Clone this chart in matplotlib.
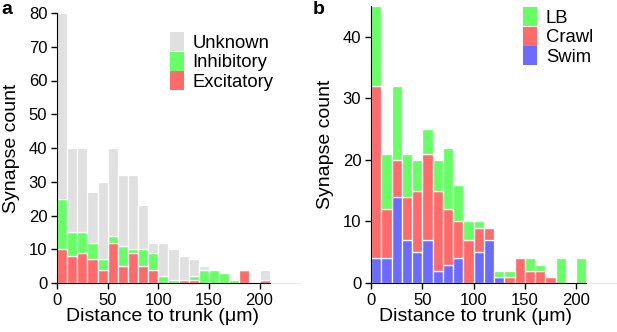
import matplotlib
matplotlib.use("Agg")
import matplotlib.pyplot as plt
import numpy as np
from matplotlib.patches import Patch

plt.rcParams['font.family'] = ['Liberation Sans', 'DejaVu Sans']

# bins (left edges, µm), width 10
bin_left = list(range(0, 210, 10))
bin_width = 10

# Panel a counts per bin (stacked: excitatory, inhibitory, unknown)
excitatory = [10, 8, 9, 7, 4, 12, 5, 9, 5, 4, 0, 0, 1, 1, 0, 0, 0, 0, 4, 0, 1]
inhibitory = [15, 7, 6, 5, 3, 2, 6, 1, 5, 5, 2, 1, 0, 1, 4, 4, 3, 1, 0, 0, 0]
unknown = [55, 25, 25, 15, 23, 26, 21, 22, 13, 3, 10, 9, 7, 5, 1, 0, 0, 0, 0, 0, 3]

# Panel b counts per bin (stacked: swim, crawl, LB)
swim = [4, 4, 14, 7, 5, 7, 2, 3, 4, 0, 5, 7, 1, 0, 0, 0, 0, 0, 0, 0, 0]
crawl = [28, 8, 6, 7, 10, 14, 13, 9, 6, 7, 4, 2, 0, 1, 4, 2, 2, 1, 0, 0, 0]
lb = [13, 9, 12, 7, 5, 4, 5, 10, 6, 3, 1, 0, 1, 1, 0, 2, 1, 0, 4, 0, 4]

x_ticks = [0, 50, 100, 150, 200]
a_yticks = [0, 10, 20, 30, 40, 50, 60, 70, 80]
b_yticks = [0, 10, 20, 30, 40]

GRAY = '#e0e0e0'
GREEN = '#66ff66'
RED = '#ff6b6b'
BLUE = '#6b6bff'

W, H = 617, 332
fig = plt.figure(figsize=(W / 100, H / 100), dpi=100)

axa = fig.add_axes([57 / W, (H - 283) / H, 243 / W, 270 / H])
axb = fig.add_axes([371 / W, (H - 283) / H, 246 / W, 277 / H])


def stack(ax, layers, colors):
    bottom = np.zeros(len(bin_left))
    for vals, c in zip(layers, colors):
        vals = np.array(vals, dtype=float)
        ax.bar(bin_left, vals, width=bin_width, bottom=bottom, align='edge',
               color=c, edgecolor='white', linewidth=0.9)
        bottom += vals


stack(axa, [excitatory, inhibitory, unknown], [RED, GREEN, GRAY])
stack(axb, [swim, crawl, lb], [BLUE, RED, GREEN])

for ax, yt, ymax in [(axa, a_yticks, 80), (axb, b_yticks, 45)]:
    ax.set_xlim(0, 240)
    ax.set_ylim(0, ymax)
    ax.set_xticks(x_ticks)
    ax.set_yticks(yt)
    for s in ['top', 'right']:
        ax.spines[s].set_visible(False)
    ax.spines['bottom'].set_bounds(0, 210)
    ax.spines['left'].set_bounds(0, ymax)
    ax.axhline(0, xmin=210 / 240, xmax=1, color='#ecebd8', lw=0.8, clip_on=False)
    ax.tick_params(direction='out', length=4, width=1, labelsize=12, pad=3)
    ax.set_xlabel('Distance to trunk (μm)', fontsize=14, labelpad=0)
    ax.set_ylabel('Synapse count', fontsize=14)

axa.xaxis.label.set_x(104 / 240)
axb.xaxis.label.set_x(102 / 240)
axa.yaxis.set_label_coords(-(57 - 20) / 243, 0.5)
axb.yaxis.set_label_coords(-(371 - 334) / 246, 0.5)

leg_kw = dict(frameon=False, fontsize=13.3, handlelength=0.78, handleheight=1.2,
              labelspacing=0.0, handletextpad=0.45, borderpad=0, borderaxespad=0,
              loc='upper left')

ha = [Patch(facecolor=GRAY), Patch(facecolor=GREEN), Patch(facecolor=RED)]
axa.legend(ha, ['Unknown', 'Inhibitory', 'Excitatory'],
           bbox_to_anchor=(170 / W, (H - 32) / H), bbox_transform=fig.transFigure, **leg_kw)

hb = [Patch(facecolor=GREEN), Patch(facecolor=RED), Patch(facecolor=BLUE)]
axb.legend(hb, ['LB', 'Crawl', 'Swim'],
           bbox_to_anchor=(523 / W, (H - 7) / H), bbox_transform=fig.transFigure, **leg_kw)

fig.text(1 / W, (H - 1) / H, 'a', fontsize=14, fontweight='bold', va='top', ha='left')
fig.text(313 / W, (H - 1) / H, 'b', fontsize=14, fontweight='bold', va='top', ha='left')

fig.savefig('out.png', dpi=100)
